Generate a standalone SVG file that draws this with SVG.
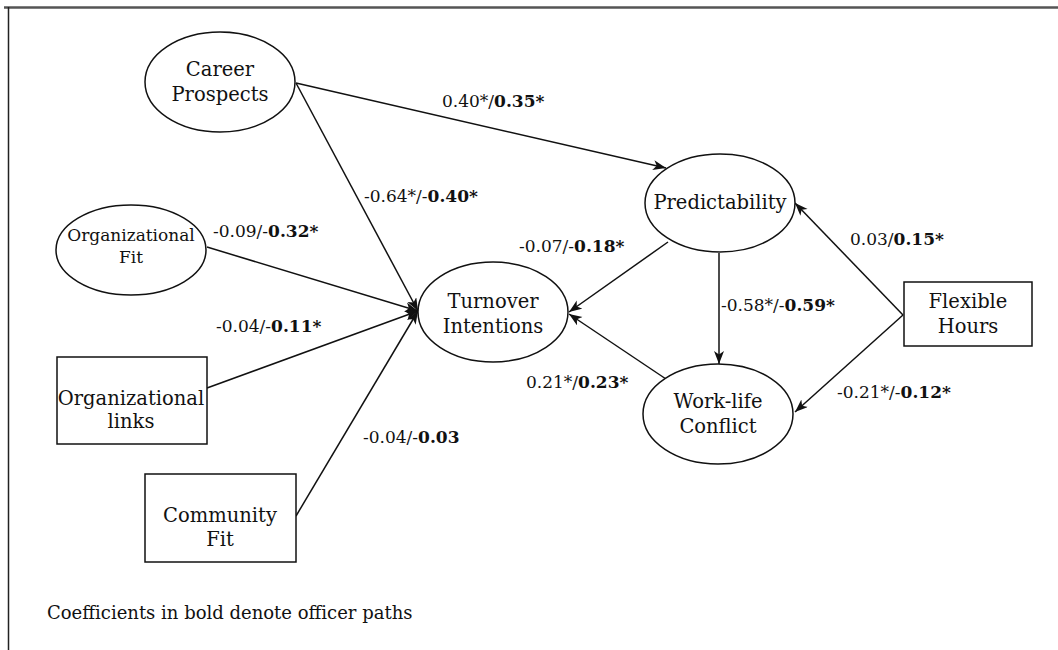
<svg xmlns="http://www.w3.org/2000/svg" width="1058" height="650" viewBox="0 0 1058 650">
<defs>
<marker id="arr" markerWidth="14" markerHeight="12" refX="13" refY="5" orient="auto" markerUnits="userSpaceOnUse">
<path d="M0,0 L13,5 L0,10 L3.5,5 z" fill="#111"/>
</marker>
<style>
.node{fill:#fff;stroke:#111;stroke-width:1.5}
.t{font-family:"DejaVu Serif","Liberation Serif",serif;font-size:19.5px;fill:#111;text-anchor:middle}
.ts{font-family:"DejaVu Serif","Liberation Serif",serif;font-size:17px;fill:#111;text-anchor:middle}
.lab{font-family:"DejaVu Serif","Liberation Serif",serif;font-size:17px;fill:#111}
.foot{font-family:"DejaVu Serif","Liberation Serif",serif;font-size:18px;fill:#111}
.b{font-weight:bold}
.con{stroke:#111;stroke-width:1.5;fill:none;marker-end:url(#arr)}
</style>
</defs>
<rect width="1058" height="650" fill="#fff"/>
<g id="frame">
<line x1="4" y1="7.5" x2="1058" y2="7.5" stroke="#555" stroke-width="2.5"/>
<line x1="8.5" y1="7" x2="8.5" y2="650" stroke="#222" stroke-width="1.5"/>
</g>
<g id="connectors">
<path class="con" d="M296,83 L666,168"/>
<path class="con" d="M296,83 L418,311"/>
<path class="con" d="M207,247 L418,311"/>
<path class="con" d="M207,388 L418,311"/>
<path class="con" d="M296,516 L418,311"/>
<path class="con" d="M668,242 L569,312"/>
<path class="con" d="M666,379 L569,314"/>
<path class="con" d="M719,253 L719,364"/>
<path class="con" d="M903,315 L795,203"/>
<path class="con" d="M903,315 L795,412"/>
</g>
<g id="career-prospects">
<ellipse class="node" cx="220" cy="82" rx="75" ry="50"/>
<text class="t" x="220" y="76">Career</text>
<text class="t" x="220" y="101">Prospects</text>
</g>
<g id="organizational-fit">
<ellipse class="node" cx="131" cy="250" rx="75" ry="45"/>
<text class="ts" x="131" y="241">Organizational</text>
<text class="ts" x="131" y="263">Fit</text>
</g>
<g id="organizational-links">
<rect class="node" x="57" y="357" width="150" height="87"/>
<text class="t" x="131" y="405">Organizational</text>
<text class="t" x="131" y="428">links</text>
</g>
<g id="community-fit">
<rect class="node" x="145" y="474" width="151" height="88"/>
<text class="t" x="220" y="522">Community</text>
<text class="t" x="220" y="546">Fit</text>
</g>
<g id="turnover-intentions">
<ellipse class="node" cx="493" cy="312" rx="75" ry="50"/>
<text class="t" x="493" y="308">Turnover</text>
<text class="t" x="493" y="333">Intentions</text>
</g>
<g id="predictability">
<ellipse class="node" cx="720" cy="203" rx="75" ry="49"/>
<text class="t" x="720" y="209">Predictability</text>
</g>
<g id="work-life-conflict">
<ellipse class="node" cx="718" cy="414" rx="75" ry="50"/>
<text class="t" x="718" y="408">Work-life</text>
<text class="t" x="718" y="433">Conflict</text>
</g>
<g id="flexible-hours">
<rect class="node" x="904" y="282" width="128" height="64"/>
<text class="t" x="968" y="308">Flexible</text>
<text class="t" x="968" y="333">Hours</text>
</g>
<g id="labels">
<text class="lab" x="442" y="107">0.40*/<tspan class="b">0.35*</tspan></text>
<text class="lab" x="364" y="202">-0.64*/-<tspan class="b">0.40*</tspan></text>
<text class="lab" x="213" y="237">-0.09/-<tspan class="b">0.32*</tspan></text>
<text class="lab" x="216" y="332">-0.04/-<tspan class="b">0.11*</tspan></text>
<text class="lab" x="363" y="443">-0.04/-<tspan class="b">0.03</tspan></text>
<text class="lab" x="519" y="252">-0.07/-<tspan class="b">0.18*</tspan></text>
<text class="lab" x="721" y="311">-0.58*/-<tspan class="b">0.59*</tspan></text>
<text class="lab" x="526" y="388">0.21*/<tspan class="b">0.23*</tspan></text>
<text class="lab" x="850" y="245">0.03/<tspan class="b">0.15*</tspan></text>
<text class="lab" x="837" y="398">-0.21*/-<tspan class="b">0.12*</tspan></text>
<text class="foot" x="47" y="619">Coefficients in bold denote officer paths</text>
</g>
</svg>
